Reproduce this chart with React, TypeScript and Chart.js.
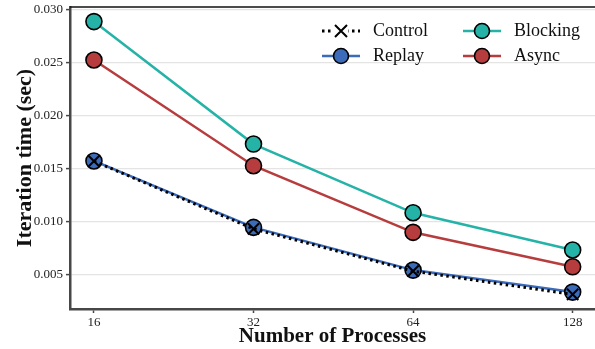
import React, { useEffect, useRef } from "react";
import { Chart, registerables } from "chart.js";

Chart.register(...registerables);

const processes = [16, 32, 64, 128];
const controlTimes = [0.0157, 0.0093, 0.0053, 0.0031];
const replayTimes = [0.01572, 0.00944, 0.0054, 0.00332];
const blockingTimes = [0.0289, 0.01732, 0.01082, 0.0073];
const asyncTimes = [0.02527, 0.01527, 0.00897, 0.00571];
const yTickValues = [0.005, 0.01, 0.015, 0.02, 0.025, 0.03];

const BLUE = "#3b6bb9";
const TEAL = "#25b3a7";
const RED = "#b73c3d";
const AXIS = "#474747";
const SERIF = "'Liberation Serif', 'DejaVu Serif', serif";

const legendItems = [
  { label: "Control", color: "#000", dash: [2.5, 3.5], marker: "x", col: 0, row: 0 },
  { label: "Replay", color: BLUE, dash: [], marker: "circle", fill: BLUE, col: 0, row: 1 },
  { label: "Blocking", color: TEAL, dash: [], marker: "circle", fill: TEAL, col: 1, row: 0 },
  { label: "Async", color: RED, dash: [], marker: "circle", fill: RED, col: 1, row: 1 },
];

const legendPlugin = {
  id: "customLegend",
  afterDraw(chart: any) {
    const ctx = chart.ctx;
    ctx.save();
    ctx.strokeStyle = "#111";
    ctx.lineWidth = 1.5;
    ctx.beginPath();
    ctx.moveTo(chart.chartArea.left, chart.chartArea.top);
    ctx.lineTo(chart.chartArea.right, chart.chartArea.top);
    ctx.stroke();

    const colX = [322, 463];
    const rowY = [31, 56];
    for (const it of legendItems) {
      const x0 = colX[it.col];
      const y = rowY[it.row];
      const x1 = x0 + 38;
      const cx = (x0 + x1) / 2;
      ctx.strokeStyle = it.color;
      ctx.lineWidth = it.marker === "x" ? 3 : 2.5;
      ctx.setLineDash(it.dash);
      ctx.beginPath();
      ctx.moveTo(x0, y);
      ctx.lineTo(x1, y);
      ctx.stroke();
      ctx.setLineDash([]);
      if (it.marker === "x") {
        ctx.fillStyle = "#fff";
        ctx.fillRect(cx - 7, y - 7, 14, 14);
        ctx.strokeStyle = "#000";
        ctx.lineWidth = 2;
        const r = 6;
        ctx.beginPath();
        ctx.moveTo(cx - r, y - r);
        ctx.lineTo(cx + r, y + r);
        ctx.moveTo(cx + r, y - r);
        ctx.lineTo(cx - r, y + r);
        ctx.stroke();
      } else {
        ctx.fillStyle = it.fill as string;
        ctx.strokeStyle = "#000";
        ctx.lineWidth = 1.6;
        ctx.beginPath();
        ctx.arc(cx, y, 7.5, 0, Math.PI * 2);
        ctx.fill();
        ctx.stroke();
      }
      ctx.fillStyle = "#111";
      ctx.font = `18px ${SERIF}`;
      ctx.textBaseline = "middle";
      ctx.textAlign = "left";
      ctx.fillText(it.label, x1 + 13, y);
    }
    ctx.restore();
  },
};

export default function App() {
  const ref = useRef<HTMLCanvasElement>(null);
  useEffect(() => {
    document.body.style.margin = "0";
    const canvas = ref.current!;
    const pts = (arr: number[]) => processes.map((p, i) => ({ x: p, y: arr[i] }));
    const chart = new Chart(canvas, {
      type: "line",
      data: {
        datasets: [
          {
            label: "Async",
            data: pts(asyncTimes),
            borderColor: RED,
            backgroundColor: RED,
            borderWidth: 2.5,
            pointRadius: 8,
            pointBorderColor: "#000",
            pointBorderWidth: 1.6,
            pointBackgroundColor: RED,
            order: 3,
          },
          {
            label: "Blocking",
            data: pts(blockingTimes),
            borderColor: TEAL,
            backgroundColor: TEAL,
            borderWidth: 2.5,
            pointRadius: 8,
            pointBorderColor: "#000",
            pointBorderWidth: 1.6,
            pointBackgroundColor: TEAL,
            order: 2,
          },
          {
            label: "Replay",
            data: pts(replayTimes),
            borderColor: BLUE,
            backgroundColor: BLUE,
            borderWidth: 2.5,
            pointRadius: 8,
            pointBorderColor: "#000",
            pointBorderWidth: 1.6,
            pointBackgroundColor: BLUE,
            order: 1,
          },
          {
            label: "Control",
            data: pts(controlTimes),
            borderColor: "#000",
            borderWidth: 3,
            borderDash: [2.5, 3.5],
            pointStyle: "crossRot",
            pointRadius: 8,
            pointBorderColor: "#000",
            pointBorderWidth: 2,
            order: 0,
          },
        ] as any,
      },
      options: {
        animation: false,
        responsive: false,
        maintainAspectRatio: false,
        layout: { autoPadding: false, padding: { top: 7, right: 0, left: 0, bottom: 0 } },
        plugins: { legend: { display: false }, tooltip: { enabled: false } },
        scales: {
          x: {
            type: "logarithmic",
            min: 16 * Math.pow(2, -0.15),
            max: 128 * Math.pow(2, 0.14),
            afterBuildTicks: (s: any) => {
              s.ticks = processes.map((v) => ({ value: v }));
            },
            afterFit: (s: any) => {
              s.height = 40;
              s.paddingLeft = 0;
              s.paddingRight = 0;
            },
            ticks: {
              callback: (v: any) => String(v),
              font: { family: SERIF, size: 13 },
              color: "#222",
              padding: 2,
              autoSkip: false,
              maxRotation: 0,
            },
            grid: { drawOnChartArea: false, tickLength: 4, tickColor: AXIS, tickWidth: 1.5 },
            border: { color: AXIS, width: 2.5 },
            title: {
              display: true,
              text: "Number of Processes",
              font: { family: SERIF, size: 21, weight: "bold" },
              color: "#111",
              padding: { top: 0, bottom: 0 },
            },
          },
          y: {
            type: "linear",
            min: 0.00172,
            max: 0.03028,
            afterBuildTicks: (s: any) => {
              s.ticks = yTickValues.map((v) => ({ value: v }));
            },
            afterFit: (s: any) => {
              s.width = 70;
              s.paddingTop = 0;
              s.paddingBottom = 0;
            },
            ticks: {
              callback: (v: any) => Number(v).toFixed(3),
              font: { family: SERIF, size: 13 },
              color: "#222",
              padding: 3,
            },
            grid: { color: "#e4e4e4", lineWidth: 1.2, tickLength: 4, tickColor: AXIS, tickWidth: 1.5 },
            border: { color: AXIS, width: 2.5 },
            title: {
              display: true,
              text: "Iteration time (sec)",
              font: { family: SERIF, size: 22, weight: "bold" },
              color: "#111",
              padding: { top: 12, bottom: 0 },
            },
          },
        },
      } as any,
      plugins: [legendPlugin],
    });
    return () => chart.destroy();
  }, []);
  return (
    <div style={{ width: 595, height: 349 }}>
      <canvas ref={ref} width={595} height={349} style={{ display: "block" }} />
    </div>
  );
}
